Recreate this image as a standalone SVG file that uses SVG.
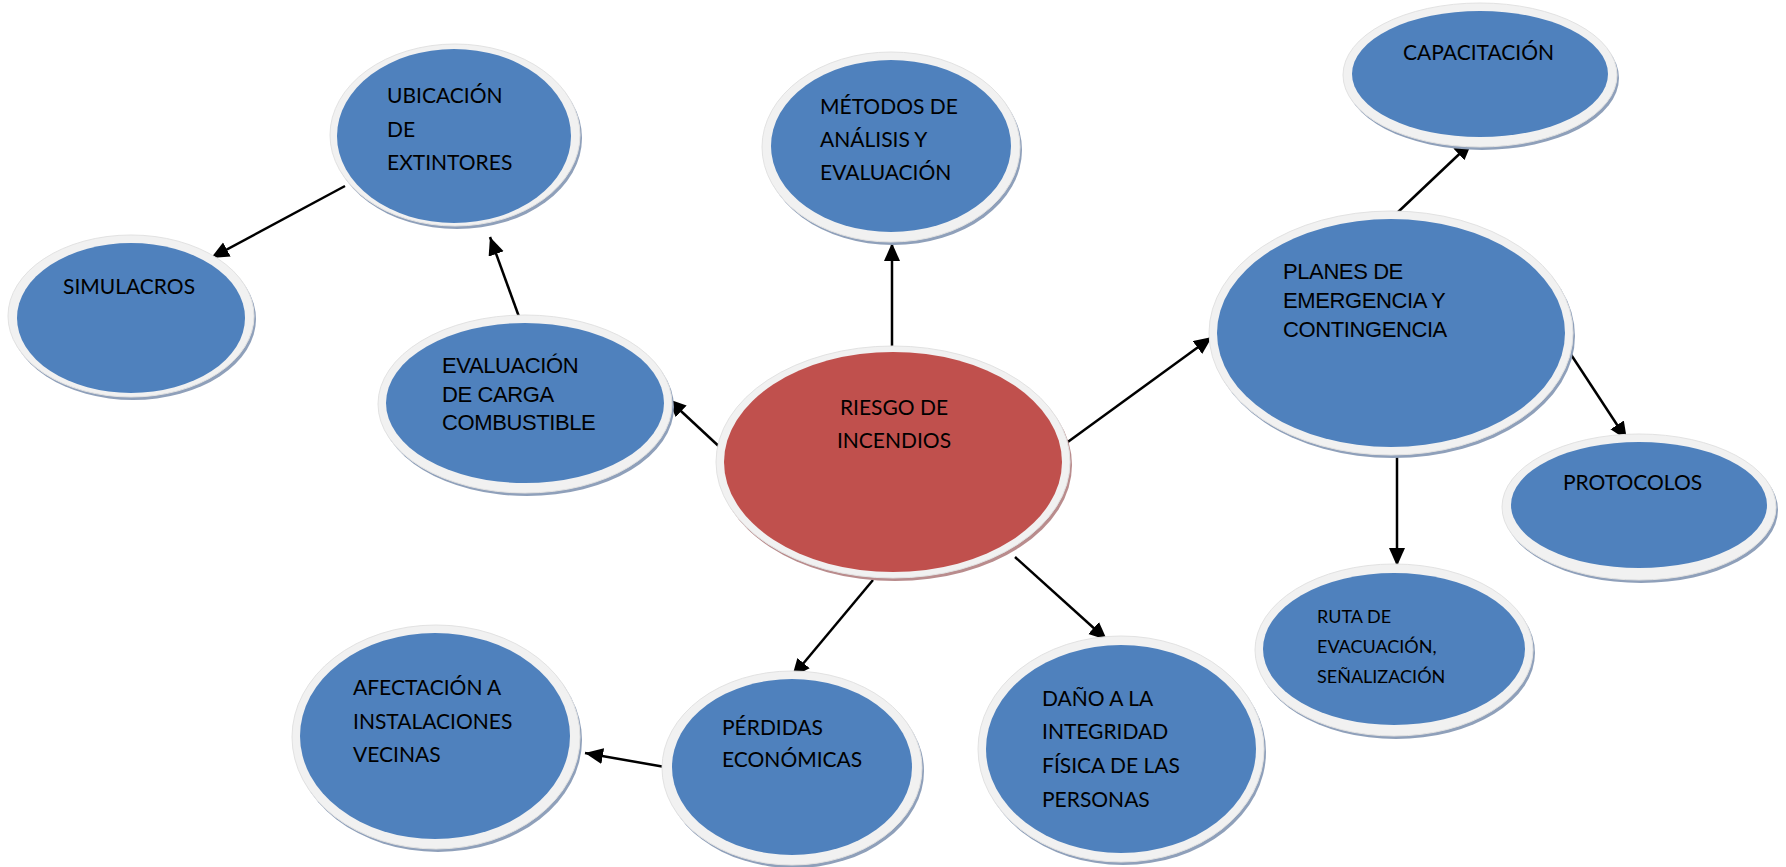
<svg xmlns="http://www.w3.org/2000/svg" width="1786" height="867" viewBox="0 0 1786 867">
  <style>
    .shadow { fill: #8fa0ba; }
    .shadow-red { fill: #b98c8d; }
    .ring { fill: #f1f1f1; stroke: #e2e2e2; stroke-width: 1; }
    .blue { fill: #4f81bd; }
    .red { fill: #c0504d; }
    .t { font-family: Lato, "Open Sans", sans-serif; font-size: 21px; fill: #000; }
    .t.small { font-size: 18px; }
    .ta { font-family: "Liberation Sans", Arial, sans-serif; font-size: 22px; fill: #000; letter-spacing: -0.4px; }
    .edge { stroke: #000; stroke-width: 2.5; fill: none; marker-end: url(#arrow); }
  </style>
  <defs>
    <marker id="arrow" markerUnits="userSpaceOnUse" markerWidth="20" markerHeight="18" refX="18" refY="8" orient="auto">
      <path d="M0,0 L18,8 L0,16 Z" fill="#000"/>
    </marker>
  </defs>
  <rect width="1786" height="867" fill="#fff"/>

  <!-- connectors -->
  <g id="connectors">
    <line class="edge" x1="892" y1="348" x2="892" y2="243"/>
    <line class="edge" x1="725" y1="452" x2="668" y2="399"/>
    <line class="edge" x1="522" y1="325" x2="490" y2="237"/>
    <line class="edge" x1="345" y1="186" x2="211" y2="258"/>
    <line class="edge" x1="1065" y1="444" x2="1212" y2="337"/>
    <line class="edge" x1="1397" y1="213" x2="1472" y2="142"/>
    <line class="edge" x1="1568" y1="350" x2="1627" y2="440"/>
    <line class="edge" x1="1397" y1="450" x2="1397" y2="566"/>
    <line class="edge" x1="1015" y1="557" x2="1107" y2="640"/>
    <line class="edge" x1="873" y1="580" x2="792" y2="677"/>
    <line class="edge" x1="665" y1="767" x2="585" y2="753"/>
  </g>

  <!-- central node -->
  <g id="riesgo">
    <ellipse class="shadow-red" cx="895" cy="465" rx="177" ry="116"/>
    <ellipse class="ring" cx="893" cy="462" rx="177" ry="116"/>
    <ellipse class="red" cx="893" cy="462" rx="169" ry="110"/>
    <text class="t" text-anchor="middle"><tspan x="894" y="415">RIESGO DE</tspan><tspan x="894" y="448">INCENDIOS</tspan></text>
  </g>

  <g id="metodos">
    <ellipse class="shadow" cx="893" cy="150" rx="129" ry="95"/>
    <ellipse class="ring" cx="891" cy="147" rx="129" ry="95"/>
    <ellipse class="blue" cx="891" cy="146" rx="120" ry="86"/>
    <text class="t"><tspan x="820" y="114">MÉTODOS DE</tspan><tspan x="820" y="147">ANÁLISIS Y</tspan><tspan x="820" y="180">EVALUACIÓN</tspan></text>
  </g>

  <g id="ubicacion">
    <ellipse class="shadow" cx="457" cy="138" rx="125" ry="91"/>
    <ellipse class="ring" cx="455" cy="135" rx="125" ry="91"/>
    <ellipse class="blue" cx="454" cy="136" rx="117" ry="87"/>
    <text class="t"><tspan x="387" y="103">UBICACIÓN</tspan><tspan x="387" y="137">DE</tspan><tspan x="387" y="170">EXTINTORES</tspan></text>
  </g>

  <g id="simulacros">
    <ellipse class="shadow" cx="133" cy="319" rx="123" ry="81"/>
    <ellipse class="ring" cx="131" cy="316" rx="123" ry="81"/>
    <ellipse class="blue" cx="131" cy="318" rx="114" ry="75"/>
    <text class="t" x="63" y="294">SIMULACROS</text>
  </g>

  <g id="evaluacion">
    <ellipse class="shadow" cx="527" cy="407" rx="147" ry="89"/>
    <ellipse class="ring" cx="525" cy="404" rx="147" ry="89"/>
    <ellipse class="blue" cx="525" cy="403" rx="139" ry="80"/>
    <text class="ta"><tspan x="442" y="373">EVALUACIÓN</tspan><tspan x="442" y="402">DE CARGA</tspan><tspan x="442" y="430">COMBUSTIBLE</tspan></text>
  </g>

  <g id="planes">
    <ellipse class="shadow" cx="1393" cy="336" rx="182" ry="122"/>
    <ellipse class="ring" cx="1391" cy="333" rx="182" ry="122"/>
    <ellipse class="blue" cx="1391" cy="333" rx="174" ry="114"/>
    <text class="ta"><tspan x="1283" y="279">PLANES DE</tspan><tspan x="1283" y="308">EMERGENCIA Y</tspan><tspan x="1283" y="337">CONTINGENCIA</tspan></text>
  </g>

  <g id="capacitacion">
    <ellipse class="shadow" cx="1482" cy="78" rx="137" ry="72"/>
    <ellipse class="ring" cx="1480" cy="75" rx="137" ry="72"/>
    <ellipse class="blue" cx="1480" cy="74" rx="128" ry="63"/>
    <text class="t" x="1403" y="60">CAPACITACIÓN</text>
  </g>

  <g id="protocolos">
    <ellipse class="shadow" cx="1641" cy="510" rx="137" ry="73"/>
    <ellipse class="ring" cx="1639" cy="507" rx="137" ry="73"/>
    <ellipse class="blue" cx="1639" cy="505" rx="128" ry="63"/>
    <text class="t" x="1563" y="490">PROTOCOLOS</text>
  </g>

  <g id="ruta">
    <ellipse class="shadow" cx="1396" cy="653" rx="139" ry="86"/>
    <ellipse class="ring" cx="1394" cy="650" rx="139" ry="86"/>
    <ellipse class="blue" cx="1394" cy="649" rx="131" ry="76"/>
    <text class="t small"><tspan x="1317" y="623">RUTA DE</tspan><tspan x="1317" y="653">EVACUACIÓN,</tspan><tspan x="1317" y="683">SEÑALIZACIÓN</tspan></text>
  </g>

  <g id="dano">
    <ellipse class="shadow" cx="1123" cy="752" rx="143" ry="113"/>
    <ellipse class="ring" cx="1121" cy="749" rx="143" ry="113"/>
    <ellipse class="blue" cx="1121" cy="749" rx="135" ry="104"/>
    <text class="t"><tspan x="1042" y="706">DAÑO A LA</tspan><tspan x="1042" y="739">INTEGRIDAD</tspan><tspan x="1042" y="773">FÍSICA DE LAS</tspan><tspan x="1042" y="807">PERSONAS</tspan></text>
  </g>

  <g id="perdidas">
    <ellipse class="shadow" cx="794" cy="771" rx="130" ry="97"/>
    <ellipse class="ring" cx="792" cy="768" rx="130" ry="97"/>
    <ellipse class="blue" cx="792" cy="767" rx="120" ry="88"/>
    <text class="t"><tspan x="722" y="735">PÉRDIDAS</tspan><tspan x="722" y="767">ECONÓMICAS</tspan></text>
  </g>

  <g id="afectacion">
    <ellipse class="shadow" cx="438" cy="740" rx="144" ry="112"/>
    <ellipse class="ring" cx="436" cy="737" rx="144" ry="112"/>
    <ellipse class="blue" cx="435" cy="736" rx="135" ry="103"/>
    <text class="t"><tspan x="353" y="695">AFECTACIÓN A</tspan><tspan x="353" y="729">INSTALACIONES</tspan><tspan x="353" y="762">VECINAS</tspan></text>
  </g>
</svg>
